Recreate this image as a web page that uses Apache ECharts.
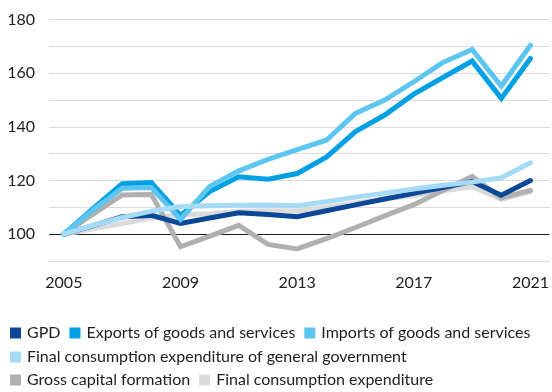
<!DOCTYPE html>
<html>
<head>
<meta charset="utf-8">
<script src="https://cdn.jsdelivr.net/npm/echarts@6/dist/echarts.min.js"></script>
<style>
  html, body { margin: 0; padding: 0; background: #fff; }
  #chart { width: 552px; height: 392px; }
</style>
</head>
<body>
<div id="chart"></div>
<script>
// Volume indices, 2005 = 100
const years = [2005, 2006, 2007, 2008, 2009, 2010, 2011, 2012, 2013, 2014, 2015, 2016, 2017, 2018, 2019, 2020, 2021];
const yearTicks = [2005, 2009, 2013, 2017, 2021];

const gdp        = [100, 103.2, 106.5, 107.0, 104.0, 106.0, 108.0, 107.3, 106.5, 108.7, 110.9, 113.1, 115.2, 117.4, 119.6, 114.5, 120.0];
const exportsGS  = [100, 109.5, 118.8, 119.2, 107.0, 115.9, 121.4, 120.5, 122.6, 128.7, 138.2, 144.4, 152.2, 158.4, 164.5, 150.6, 165.5];
const importsGS  = [100, 109.0, 117.1, 117.4, 105.5, 117.8, 123.6, 127.9, 131.5, 135.0, 145.0, 150.0, 156.8, 164.0, 168.8, 155.2, 170.4];
const govConsump = [100, 103.3, 106.2, 108.6, 110.3, 110.6, 110.8, 110.9, 110.6, 112.1, 113.8, 115.3, 116.8, 118.2, 119.4, 121.0, 126.6];
const grossCap   = [100, 107.5, 114.6, 114.8, 95.3, 99.3, 103.3, 96.2, 94.5, 98.3, 102.5, 106.8, 111.0, 116.3, 121.5, 113.5, 116.3];
const finalCons  = [100, 102.0, 104.0, 106.0, 107.2, 107.6, 108.5, 108.7, 108.6, 110.0, 111.6, 113.2, 114.3, 116.2, 117.7, 113.0, 115.9];

const names = {
  gdp: 'GPD',
  exp: 'Exports of goods and services',
  imp: 'Imports of goods and services',
  gov: 'Final consumption expenditure of general government',
  gcf: 'Gross capital formation',
  fce: 'Final consumption expenditure'
};

const colors = {
  gdp: '#0b4897',
  exp: '#00a1e4',
  imp: '#5cc6f1',
  gov: '#a6dbf7',
  gcf: '#b0b0b0',
  fce: '#dbdbdb'
};

const FONT = 'Lato, "Noto Sans", sans-serif';
const TEXT = '#1e1e1e';

function pairs(values) {
  return values.map((v, i) => [years[i], v]);
}

function line(key, values, z) {
  return {
    name: names[key],
    type: 'line',
    data: pairs(values),
    showSymbol: false,
    symbol: 'none',
    z: z,
    color: colors[key],
    lineStyle: { width: 5, color: colors[key], cap: 'round', join: 'miter' },
    emphasis: { disabled: true },
    animation: false
  };
}

function legendRow(top, data) {
  return {
    left: 10,
    top: top,
    padding: 0,
    itemGap: 9,
    itemWidth: 11,
    itemHeight: 11,
    icon: 'rect',
    selectedMode: false,
    data: data,
    textStyle: { fontFamily: FONT, fontSize: 16, lineHeight: 16, color: TEXT, padding: [0, 0, 0, 1] }
  };
}

// Split lines 90..180: the 100 baseline is drawn dark
const splitColors = ['#dcdcdc', '#1a1a1a', '#dcdcdc', '#dcdcdc', '#dcdcdc', '#dcdcdc', '#dcdcdc', '#dcdcdc', '#dcdcdc', '#dcdcdc'];

const chart = echarts.init(document.getElementById('chart'), null, { renderer: 'canvas' });
chart.setOption({
  animation: false,
  textStyle: { fontFamily: FONT },
  grid: { left: 49, right: 0, top: 19.5, bottom: 131, containLabel: false },
  legend: [
    legendRow(325, [names.gdp, names.exp, names.imp]),
    legendRow(349, [names.gov]),
    legendRow(372, [names.gcf, names.fce])
  ],
  xAxis: {
    type: 'value',
    min: 2004.49,
    max: 2021.65,
    axisLine: { show: false },
    axisTick: { show: false },
    splitLine: { show: false },
    axisLabel: {
      customValues: yearTicks,
      formatter: v => String(v),
      fontFamily: FONT,
      fontSize: 16,
      color: TEXT,
      margin: 14
    }
  },
  yAxis: {
    type: 'value',
    min: 90,
    max: 180,
    interval: 10,
    axisLine: { show: false },
    axisTick: { show: false },
    axisLabel: {
      formatter: v => (v >= 100 && (v - 100) % 20 === 0) ? String(v) : '',
      fontFamily: FONT,
      fontSize: 16,
      color: TEXT,
      margin: 14
    },
    splitLine: { show: true, lineStyle: { color: splitColors, width: 1 } }
  },
  series: [
    line('fce', finalCons, 1),
    line('gcf', grossCap, 2),
    line('gdp', gdp, 3),
    line('exp', exportsGS, 4),
    line('imp', importsGS, 5),
    line('gov', govConsump, 6)
  ]
});
</script>
</body>
</html>
